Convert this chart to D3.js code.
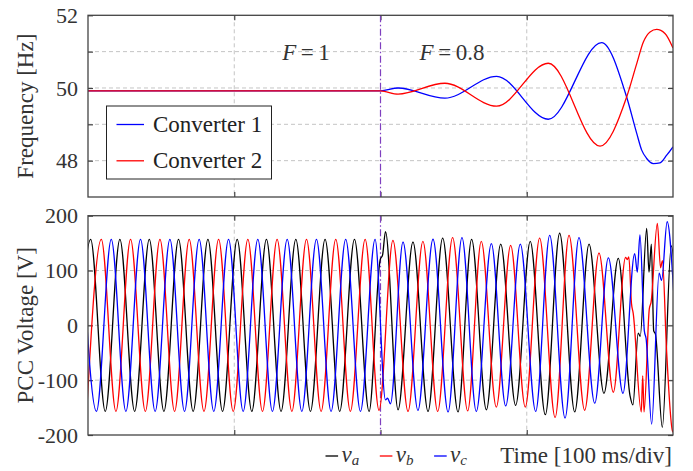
<!DOCTYPE html>
<meta charset="utf-8">
<style>
body { margin: 0; background: #fff; }
text { font-family: "Liberation Serif", "Times New Roman", serif; fill: #333; }
.grid line { stroke: #c4c4c4; stroke-width: 1; stroke-dasharray: 4,3; }
.frame { fill: none; stroke: #444; stroke-width: 1.3; }
.axis path { display: none; }
.axis line { stroke: #444; stroke-width: 1.2; }
.axis text { font-size: 22px; fill: #333; }
.trace { fill: none; stroke-width: 1.3; stroke-linejoin: round; }
</style>
<body>
<svg width="693" height="471"></svg>
<script src="https://cdn.jsdelivr.net/npm/d3@7/dist/d3.min.js"></script>
<script>
// ---- data ----
var timeTicks = [100, 200, 300];
var eventTime = 200;
var freqTicks = [48, 49, 50, 51, 52];
var freqLabels = [48, 50, 52];
var voltTicks = [-200, -100, 0, 100, 200];

// frequency [ms, Hz]
var freqConv1 = [[0,49.92],[200,49.92],[212,50.0],[244,49.72],[279.4,50.32],[314.7,49.14],[351.2,51.25],
  [368.3,49.75],[375.2,48.75],[378.6,48.29],[382,48.06],[386.6,47.92],[391.1,47.94],[395.7,48.15],[400,48.38]];
var freqConv2 = [[0,49.92],[200,49.92],[212,49.83],[244,50.13],[279.4,49.5],[314.7,50.68],[350.1,48.4],
  [368.3,49.75],[375.2,50.67],[379.8,51.27],[384.3,51.54],[388.8,51.61],[394.5,51.5],[400,51.1]];

// PCC voltage extrema and kinks [ms, V]
var va = [[-8.2,-157],[1.8,157],[11.8,-157],[21.8,157],[31.9,-157],[41.9,157],[51.9,-157],[61.9,157],[71.9,-157],
  [82.0,157],[92.0,-157],[102.0,157],[112.0,-157],[122.0,157],[132.0,-157],[142.1,157],[152.1,-157],[162.1,157],
  [172.1,-157],[182.2,157],[192.2,-157],[199.8,120],[201.4,128],[203.4,171],[212,-154],[222.2,152],[232.5,-157],
  [242.5,159],[253,-158],[262.3,157],[272.4,-154],[282.2,148],[292.4,-146],[302.4,153],[312.7,-163],[322.5,168],
  [332.8,-158],[342.6,148],[352.8,-124],[362.6,122],[370.6,-128],[372.6,-145],[376.2,-14],[377.6,-20],[382,177],
  [383.6,97],[385.2,148],[386.8,-10],[388,-16],[392.7,-186],[398.8,145],[401,110]];
var vb = [[-0.9,-157],[9.1,157],[19.1,-157],[29.1,157],[39.2,-157],[49.2,157],[59.2,-157],[69.2,157],[79.3,-157],
  [89.3,157],[99.3,-157],[109.3,157],[119.3,-157],[129.3,157],[139.4,-157],[149.4,157],[159.4,-157],[169.4,157],
  [179.4,-157],[189.5,157],[199.0,-155],[208.5,155],[218.8,-157],[229,153],[239.1,-157],[249.3,160],[259.6,-156],
  [268.9,153],[279.2,-149],[289,146],[299,-149],[308.8,159],[319.4,-168],[328.9,164],[339.6,-155],[349.4,132],
  [359.2,-122],[367.6,124],[368.7,120],[369.8,125],[371.6,40],[372.8,22],[378.3,-158],[379.3,-92],[380.2,-158],
  [383.8,30],[385,42],[389.3,186],[391.5,105],[392.8,118],[395.5,-40],[399.7,-193],[401,-196]];
var vc = [[-4.2,157],[5.8,-157],[15.9,157],[25.9,-157],[35.9,157],[45.9,-157],[56.0,157],[66.0,-157],[76.0,157],
  [86.0,-157],[96.1,157],[106.1,-157],[116.1,157],[126.1,-157],[136.2,157],[146.2,-157],[156.2,157],[166.2,-157],
  [176.2,157],[186.3,-157],[196.3,157],[203.4,-136],[204.8,-133],[206.8,-143],[215.4,152],[225.6,-155],[235.9,157],
  [246.2,-158],[255.7,160],[265.5,-157],[275.8,149],[285.6,-147],[295.6,148],[306.1,-157],[315.7,164],[326.2,-169],
  [335.7,160],[346.5,-142],[355.8,123],[365.8,-124],[373.8,131],[375.6,97],[377.4,165],[380.4,-10],[381.6,-24],
  [385.4,-180],[390.5,95],[392.2,82],[396,189],[400.6,55]];

var freqSeries = [
  {name: "Converter 1", values: freqConv1, color: "#0000ff"},
  {name: "Converter 2", values: freqConv2, color: "#ff0000"}
];
var voltSeries = [
  {name: "a", values: va, color: "#000000"},
  {name: "b", values: vb, color: "#ff0000"},
  {name: "c", values: vc, color: "#0000ff"}
];

// ---- layout ----
var svg = d3.select("svg");
var x = d3.scaleLinear().domain([0, 400]).range([88, 673]);
var yF = d3.scaleLinear().domain([47, 52]).range([197, 15.3]);
var yV = d3.scaleLinear().domain([-200, 200]).range([435, 215.7]);

function panel(id, y, yTicks, yLabels, gridY) {
  var g = svg.append("g");
  var x0 = x.range()[0], x1 = x.range()[1], yTop = y.range()[1], yBot = y.range()[0];

  g.append("clipPath").attr("id", id)
    .append("rect").attr("x", x0).attr("y", yTop).attr("width", x1 - x0).attr("height", yBot - yTop);

  var grid = g.append("g").attr("class", "grid");
  grid.selectAll(".gx").data(timeTicks.filter(function(t) { return t !== eventTime; }))
    .enter().append("line")
      .attr("x1", function(d) { return x(d); }).attr("x2", function(d) { return x(d); })
      .attr("y1", yTop).attr("y2", yBot);
  grid.selectAll(".gy").data(gridY)
    .enter().append("line")
      .attr("x1", x0).attr("x2", x1)
      .attr("y1", function(d) { return y(d); }).attr("y2", function(d) { return y(d); });

  g.append("g").attr("class", "axis")
    .attr("transform", "translate(" + x0 + ",0)")
    .call(d3.axisLeft(y).tickValues(yTicks).tickSizeInner(-5).tickSizeOuter(0).tickPadding(10)
      .tickFormat(function(d) { return yLabels.indexOf(d) >= 0 ? String(d) : ""; }));
  g.append("g").attr("class", "axis")
    .attr("transform", "translate(" + x1 + ",0)")
    .call(d3.axisRight(y).tickValues(yTicks).tickSizeInner(-5).tickSizeOuter(0).tickFormat(""));
  g.append("g").attr("class", "axis")
    .attr("transform", "translate(0," + yTop + ")")
    .call(d3.axisTop(x).tickValues(timeTicks).tickSizeInner(-5).tickSizeOuter(0).tickFormat(""));
  g.append("g").attr("class", "axis")
    .attr("transform", "translate(0," + yBot + ")")
    .call(d3.axisBottom(x).tickValues(timeTicks).tickSizeInner(-5).tickSizeOuter(0).tickFormat(""));

  g.append("line")
    .attr("x1", x(eventTime)).attr("x2", x(eventTime))
    .attr("y1", yTop).attr("y2", yBot)
    .attr("stroke", "#7f3fbf").attr("stroke-width", 1.2)
    .attr("stroke-dasharray", "7,2.5,1.5,2.5");

  return g;
}

// ---- frequency panel ----
var gF = panel("clipF", yF, freqTicks, freqLabels, [48, 49, 50, 51]);
var lineF = d3.line()
  .x(function(d) { return x(d[0]); })
  .y(function(d) { return yF(d[1]); })
  .curve(d3.curveMonotoneX);
gF.append("g").attr("clip-path", "url(#clipF)")
  .selectAll("path").data(freqSeries).enter().append("path")
    .attr("class", "trace")
    .attr("stroke", function(d) { return d.color; })
    .attr("d", function(d) { return lineF(d.values); });
gF.append("rect").attr("class", "frame")
  .attr("x", 88).attr("y", yF.range()[1]).attr("width", 585).attr("height", yF.range()[0] - yF.range()[1]);

gF.append("text").attr("x", 306).attr("y", 60).attr("text-anchor", "middle").style("font-size", "23px")
  .html('<tspan font-style="italic">F</tspan>\u2009=\u20091');
gF.append("text").attr("x", 452).attr("y", 60).attr("text-anchor", "middle").style("font-size", "23px")
  .html('<tspan font-style="italic">F</tspan>\u2009=\u20090.8');

var legF = gF.append("g");
legF.append("rect").attr("x", 106.5).attr("y", 106).attr("width", 165).attr("height", 73)
  .attr("fill", "#fff").attr("stroke", "#222").attr("stroke-width", 1);
freqSeries.forEach(function(s, i) {
  var ly = 124.5 + i * 36.3;
  legF.append("line").attr("x1", 116.5).attr("x2", 144).attr("y1", ly).attr("y2", ly)
    .attr("stroke", s.color).attr("stroke-width", 1.3);
  legF.append("text").attr("x", 153).attr("y", ly + 7.5).style("font-size", "23px").style("fill", "#222")
    .text(s.name);
});

svg.append("text").attr("transform", "translate(33," + (yF(49.5)) + ") rotate(-90)")
  .attr("text-anchor", "middle").style("font-size", "23px").text("Frequency [Hz]");

// ---- voltage panel ----
var gV = panel("clipV", yV, voltTicks, voltTicks, [-100, 0, 100]);
var lineV = d3.line()
  .x(function(d) { return x(d[0]); })
  .y(function(d) { return yV(d[1]); })
  .curve(d3.curveMonotoneX);
gV.append("g").attr("clip-path", "url(#clipV)")
  .selectAll("path").data(voltSeries).enter().append("path")
    .attr("class", "trace")
    .attr("stroke", function(d) { return d.color; })
    .attr("d", function(d) { return lineV(d.values); });
gV.append("rect").attr("class", "frame")
  .attr("x", 88).attr("y", yV.range()[1]).attr("width", 585).attr("height", yV.range()[0] - yV.range()[1]);

svg.append("text").attr("transform", "translate(33," + yV(0) + ") rotate(-90)")
  .attr("text-anchor", "middle").style("font-size", "23px").text("PCC Voltage [V]");

// bottom legend
var legV = svg.append("g");
voltSeries.forEach(function(s, i) {
  var lx = 325.5 + i * 54.3;
  legV.append("line").attr("x1", lx).attr("x2", lx + 12.6).attr("y1", 456).attr("y2", 456)
    .attr("stroke", s.color).attr("stroke-width", 1.3);
  legV.append("text").attr("x", lx + 16).attr("y", 462).style("font-size", "23px")
    .html('<tspan font-style="italic">v</tspan><tspan font-style="italic" font-size="15px" dy="3">' + s.name + '</tspan>');
});
legV.append("text").attr("x", 672).attr("y", 463).attr("text-anchor", "end").style("font-size", "23px")
  .text("Time [100 ms/div]");
</script>
</body>
